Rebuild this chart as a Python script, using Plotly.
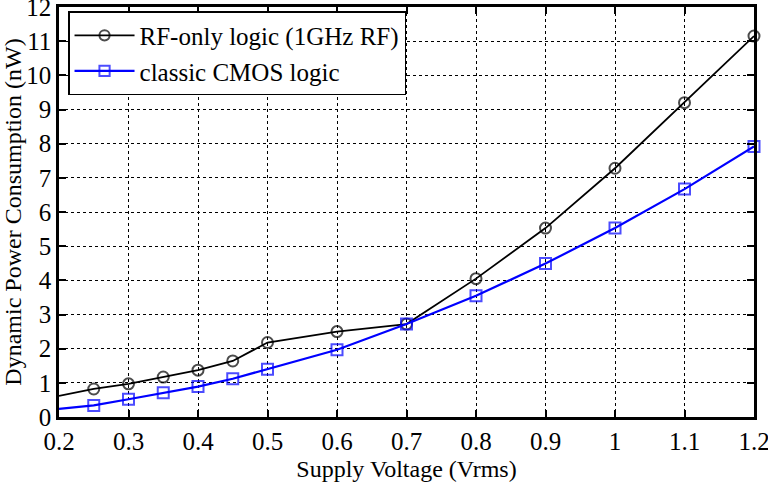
import plotly.graph_objects as go

voltage = [0.2, 0.25, 0.3, 0.35, 0.4, 0.45, 0.5, 0.6, 0.7, 0.8, 0.9, 1.0, 1.1, 1.2]
rf_only = [0.62, 0.82, 0.97, 1.17, 1.37, 1.64, 2.18, 2.50, 2.72, 4.05, 5.53, 7.28, 9.20, 11.15]
cmos = [0.24, 0.34, 0.52, 0.71, 0.89, 1.12, 1.40, 1.97, 2.72, 3.55, 4.49, 5.53, 6.67, 7.92]

x_ticks = [0.2, 0.3, 0.4, 0.5, 0.6, 0.7, 0.8, 0.9, 1.0, 1.1, 1.2]
x_labels = ["0.2", "0.3", "0.4", "0.5", "0.6", "0.7", "0.8", "0.9", "1", "1.1", "1.2"]
y_ticks = list(range(0, 13))

FONT = "Liberation Serif"
msize = [0] + [11] * (len(voltage) - 1)

fig = go.Figure()
fig.add_trace(go.Scatter(
    x=voltage, y=rf_only, mode="lines+markers", name="RF-only logic (1GHz RF)",
    line=dict(color="black", width=1.8),
    marker=dict(symbol="circle-open", size=msize, color="black", line=dict(width=2)),
    cliponaxis=False,
))
fig.add_trace(go.Scatter(
    x=voltage, y=cmos, mode="lines+markers", name="classic CMOS logic",
    line=dict(color="#0000ff", width=2.2),
    marker=dict(symbol="square-open", size=msize, color="#0000ff", line=dict(width=2)),
    cliponaxis=False,
))

axis_common = dict(
    showline=True, linecolor="black", linewidth=2.5, mirror="ticks",
    ticks="inside", ticklen=7, tickwidth=1.5, tickcolor="black",
    showgrid=True, gridcolor="black", gridwidth=1, griddash="dot",
    zeroline=False, tickfont=dict(family=FONT, size=25, color="black"),
    ticklabeloverflow="allow", automargin=False,
)

fig.update_xaxes(
    range=[0.2, 1.2], tickvals=x_ticks, ticktext=x_labels,
    title=dict(text="Supply Voltage (Vrms)", font=dict(family=FONT, size=24, color="black")),
    **axis_common,
)
fig.update_yaxes(
    range=[0, 12], tickvals=y_ticks,
    title=dict(text="Dynamic Power Consumption (nW)", font=dict(family=FONT, size=24, color="black")),
    **axis_common,
)

fig.update_layout(
    width=768, height=482,
    margin=dict(l=59, r=14, t=7, b=65),
    plot_bgcolor="white", paper_bgcolor="white",
    font=dict(family=FONT, color="black"),
    legend=dict(
        x=0.013, y=0.99, xanchor="left", yanchor="top",
        bgcolor="white", bordercolor="black", borderwidth=1.5,
        font=dict(family=FONT, size=25, color="black"),
        itemwidth=60, tracegroupgap=0,
    ),
    showlegend=True,
)

fig.write_html("out.html")
